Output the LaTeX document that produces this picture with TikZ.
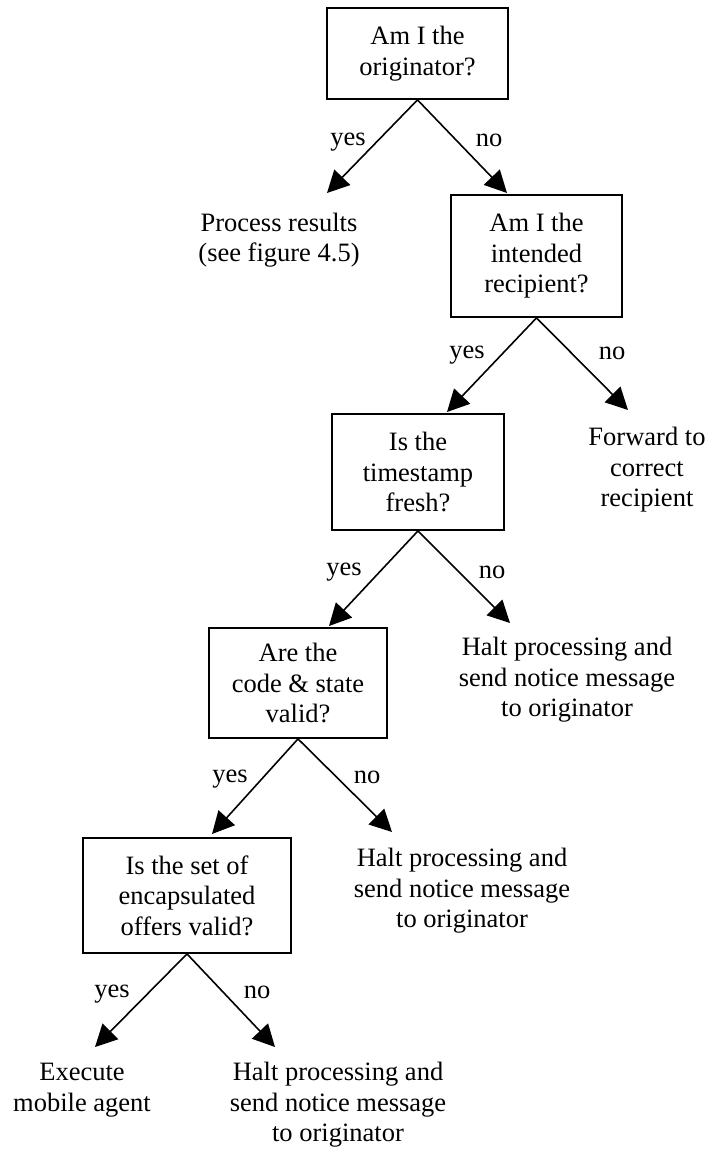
\documentclass[tikz,border=0pt]{standalone}
\usepackage{fontspec}
\setmainfont{Liberation Serif}
\usetikzlibrary{arrows.meta}
\begin{document}
\begin{tikzpicture}[x=1pt,y=-1pt,
  every node/.style={font=\fontsize{26.5}{30.5}\selectfont, inner sep=0pt},
  qbox/.style={draw, line width=1.8pt, align=center},
  outcome/.style={align=center},
  branch/.style={line width=1.6pt, -{Triangle[length=22pt,width=22pt]}}
]
\useasboundingbox (0,0) rectangle (709,1152);

% decision boxes
\node[qbox, minimum width=181pt, minimum height=91pt]  (q1) at (417.5,53.5) {Am I the\\originator?};
\node[qbox, minimum width=171pt, minimum height=122pt] (q2) at (536.5,256) {Am I the\\intended\\recipient?};
\node[qbox, minimum width=172pt, minimum height=116pt] (q3) at (418,472) {Is the\\timestamp\\fresh?};
\node[qbox, minimum width=178pt, minimum height=110pt] (q4) at (298,683) {Are the\\code \& state\\valid?};
\node[qbox, minimum width=208pt, minimum height=115pt] (q5) at (187,895.5) {Is the set of\\encapsulated\\offers valid?};

% outcomes
\node[outcome] (o1) at (279,240) {Process results\\(see figure 4.5)};
\node[outcome] (o2) at (647,470) {Forward to\\correct\\recipient};
\node[outcome] (o3) at (567,680) {Halt processing and\\send notice message\\to originator};
\node[outcome] (o4) at (462,891) {Halt processing and\\send notice message\\to originator};
\node[outcome] (o5) at (82,1090) {Execute\\mobile agent};
\node[outcome] (o6) at (338,1105) {Halt processing and\\send notice message\\to originator};

% arrow tips
\coordinate (t1y) at (327,193);
\coordinate (t1n) at (507,193);
\coordinate (t2y) at (447,412);
\coordinate (t2n) at (628,410);
\coordinate (t3y) at (329,626);
\coordinate (t3n) at (510,623);
\coordinate (t4y) at (212,834);
\coordinate (t4n) at (392,832);
\coordinate (t5y) at (95,1047);
\coordinate (t5n) at (275,1047);

% branches
\draw[branch] (q1.south) -- (t1y);
\draw[branch] (q1.south) -- (t1n);
\draw[branch] (q2.south) -- (t2y);
\draw[branch] (q2.south) -- (t2n);
\draw[branch] (q3.south) -- (t3y);
\draw[branch] (q3.south) -- (t3n);
\draw[branch] (q4.south) -- (t4y);
\draw[branch] (q4.south) -- (t4n);
\draw[branch] (q5.south) -- (t5y);
\draw[branch] (q5.south) -- (t5n);

% branch labels
\node (y1) at (348,142) {yes};
\node (n1) at (489,140) {no};
\node (y2) at (467,355) {yes};
\node (n2) at (612,353) {no};
\node (y3) at (344,572) {yes};
\node (n3) at (492,572) {no};
\node (y4) at (230,779) {yes};
\node (n4) at (367,777) {no};
\node (y5) at (112,994) {yes};
\node (n5) at (257,992) {no};
\end{tikzpicture}
\end{document}
